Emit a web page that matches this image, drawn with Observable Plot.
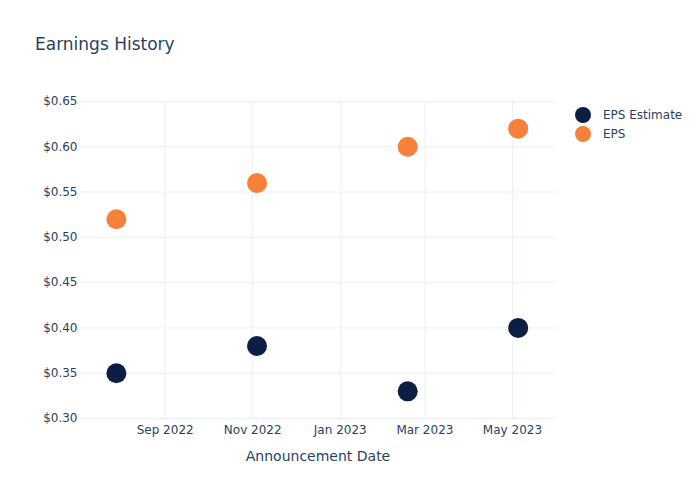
<!DOCTYPE html>
<html>
<head>
<meta charset="utf-8">
<script src="https://cdn.jsdelivr.net/npm/d3@7"></script>
<script src="https://cdn.jsdelivr.net/npm/@observablehq/plot@0.6"></script>
<style>
  body { margin: 0; background: #fff; font-family: "DejaVu Sans", sans-serif; }
  #wrap { position: relative; width: 700px; height: 500px; }
  #title { position: absolute; left: 35px; top: 34px; font-size: 17px; color: #2a3f5f; }
  #legend { position: absolute; left: 575px; top: 105px; font-size: 12px; color: #2a3f5f; }
  .item { display: flex; align-items: center; height: 19px; }
  .sw { width: 16px; height: 16px; border-radius: 50%; margin-right: 12px; }
  svg [aria-label="x-axis label"] { font-size: 14px; }
</style>
</head>
<body>
<div id="wrap">
  <div id="chart"></div>
  <div id="title">Earnings History</div>
  <div id="legend"></div>
</div>
<script>
const dates = ["2022-07-29", "2022-11-04", "2023-02-17", "2023-05-05"];
const epsEstimate = [0.35, 0.38, 0.33, 0.40];
const eps = [0.52, 0.56, 0.60, 0.62];
const seriesNames = ["EPS Estimate", "EPS"];
const seriesColors = ["#0c1f42", "#f7813a"];
const xTicks = ["2022-09-01", "2022-11-01", "2023-01-01", "2023-03-01", "2023-05-01"];
const yTicks = [0.30, 0.35, 0.40, 0.45, 0.50, 0.55, 0.60, 0.65];

const parse = d3.utcParse("%Y-%m-%d");
const rows = [];
dates.forEach((d, i) => {
  rows.push({date: parse(d), value: epsEstimate[i], series: seriesNames[0]});
  rows.push({date: parse(d), value: eps[i], series: seriesNames[1]});
});

const chart = Plot.plot({
  width: 700,
  height: 500,
  marginLeft: 80,
  marginRight: 145,
  marginTop: 100,
  marginBottom: 80,
  style: {fontFamily: "DejaVu Sans, sans-serif", fontSize: "12px", color: "#2a3f5f", background: "#fff"},
  x: {type: "utc", domain: [parse("2022-07-04"), parse("2023-05-31")]},
  y: {domain: [0.2978, 0.6511]},
  color: {domain: seriesNames, range: seriesColors},
  marks: [
    Plot.gridX(xTicks.map(parse), {stroke: "#ebf0f8", strokeOpacity: 1, strokeWidth: 1}),
    Plot.gridY(yTicks, {stroke: "#ebf0f8", strokeOpacity: 1, strokeWidth: 1}),
    Plot.axisX(xTicks.map(parse), {tickFormat: d3.utcFormat("%b %Y"), tickSize: 0, tickPadding: 5,
      label: "Announcement Date", labelAnchor: "center", labelArrow: "none", labelOffset: 40, fill: "#2a3f5f"}),
    Plot.axisY(yTicks, {tickFormat: d => "$" + d.toFixed(2), tickSize: 0, tickPadding: 3, label: null, fill: "#2a3f5f"}),
    Plot.dot(rows, {x: "date", y: "value", fill: "series", r: 10, stroke: null})
  ]
});
document.getElementById("chart").appendChild(chart);

const legend = document.getElementById("legend");
seriesNames.forEach((n, i) => {
  const it = document.createElement("div");
  it.className = "item";
  it.innerHTML = `<span class="sw" style="background:${seriesColors[i]}"></span><span>${n}</span>`;
  legend.appendChild(it);
});
</script>
</body>
</html>
